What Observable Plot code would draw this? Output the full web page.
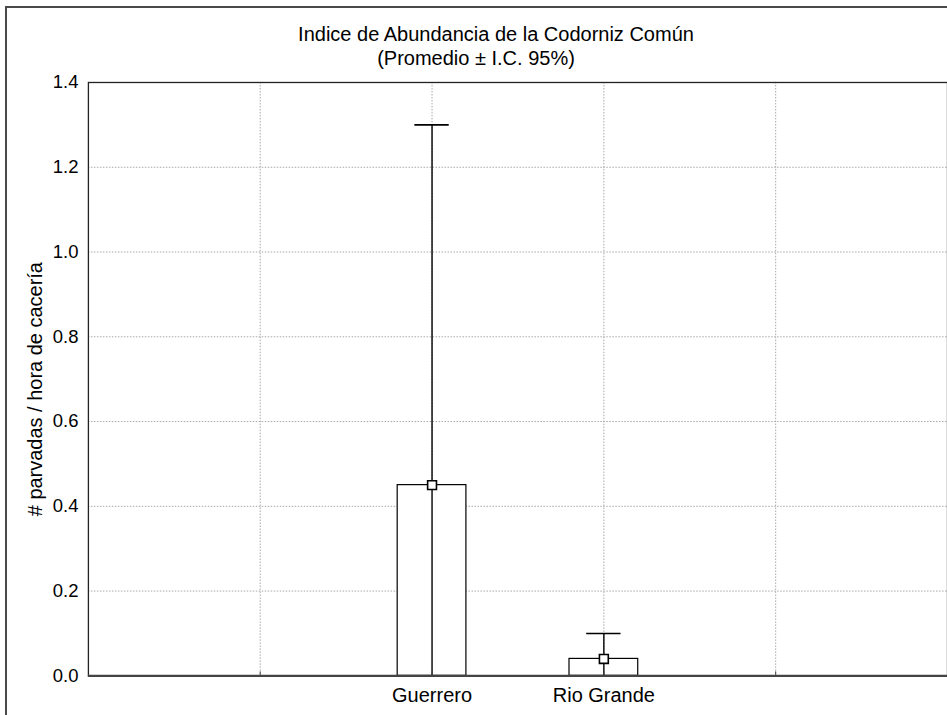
<!DOCTYPE html>
<html>
<head>
<meta charset="utf-8">
<script src="https://cdn.jsdelivr.net/npm/d3@7"></script>
<script src="https://cdn.jsdelivr.net/npm/@observablehq/plot@0.6"></script>
<style>
  html, body { margin: 0; padding: 0; background: #fff; overflow: hidden; }
  body { width: 947px; height: 715px; position: relative; font-family: "Liberation Sans", Arial, sans-serif; }
  #border { position: absolute; left: 5px; top: 6px; width: 2000px; height: 2000px;
            border-left: 2px solid #4a4a4a; border-top: 2px solid #4a4a4a; }
  .tline { position: absolute; width: 600px; text-align: center; font-size: 20px; line-height: 24px; color: #000; white-space: nowrap; }
  #t1 { left: 196px; top: 22px; }
  #t2 { left: 176px; top: 46px; }
  #chart { position: absolute; left: 0; top: 70px; }
</style>
</head>
<body>
<div id="border"></div>
<div class="tline" id="t1">Indice de Abundancia de la Codorniz Común</div>
<div class="tline" id="t2">(Promedio ± I.C. 95%)</div>
<div id="chart"></div>
<script>
const categories = ["Guerrero", "Rio Grande"];
const means = [0.45, 0.04];
const upperCI = [1.30, 0.10];
const lowerCI = [-0.40, -0.02];
const xSlots = [1, 2, 3, 4];
const xDomain = [0, 5];
const yTicks = [0, 0.2, 0.4, 0.6, 0.8, 1.0, 1.2, 1.4];
const yLabel = "# parvadas / hora de cacería";

const data = categories.map((c, i) => ({
  cat: c, pos: i + 2, mean: means[i], lo: lowerCI[i], hi: upperCI[i]
}));

const font = "Liberation Sans, Arial, sans-serif";

const chart = Plot.plot({
  width: 948,
  height: 645,
  marginLeft: 88,
  marginRight: 0,
  marginTop: 12,
  marginBottom: 39,
  style: { fontFamily: font, fontSize: "17px", color: "#000", background: "transparent", overflow: "visible" },
  x: { domain: xDomain, axis: null },
  y: { domain: [0, 1.4], axis: null },
  marks: [
    Plot.gridY(yTicks, { stroke: "#a8a8a8", strokeOpacity: 1, strokeDasharray: "1.5,1.5" }),
    Plot.gridX(xSlots, { stroke: "#a8a8a8", strokeOpacity: 1, strokeDasharray: "1.5,1.5" }),
    Plot.rect(data, { x1: d => d.pos - 0.2, x2: d => d.pos + 0.2, y1: 0, y2: "mean", fill: "white", stroke: "black", strokeWidth: 1.2 }),
    Plot.ruleX(data, { x: "pos", y1: "lo", y2: "hi", stroke: "black", strokeWidth: 1.4, clip: true }),
    Plot.ruleY(data, { y: "hi", x1: d => d.pos - 0.1, x2: d => d.pos + 0.1, stroke: "black", strokeWidth: 1.6 }),
    Plot.dot(data, { x: "pos", y: "mean", symbol: "square", r: 5, fill: "white", stroke: "black", strokeWidth: 1.6 }),
    Plot.axisX(xSlots, { tickSize: -4, tickFormat: () => "", stroke: "#444", label: null }),
    Plot.axisX(data.map(d => d.pos), { tickSize: 0, tickPadding: 12, tickFormat: (v) => categories[v - 2], fontSize: 20, label: null }),
    Plot.axisY(yTicks, { tickSize: 0, tickPadding: 10, tickFormat: d3.format(".1f"), fontSize: 18.5, label: null }),
    Plot.frame({ stroke: "#222", strokeWidth: 1.3 }),
    Plot.ruleY([0], { stroke: "#444", strokeWidth: 2.2 }),
    Plot.text([yLabel], { text: d => d, frameAnchor: "left", textAnchor: "middle", rotate: -90, dx: -53, dy: 10, fontSize: 20, fill: "black" })
  ]
});
document.getElementById("chart").appendChild(chart);
</script>
</body>
</html>
